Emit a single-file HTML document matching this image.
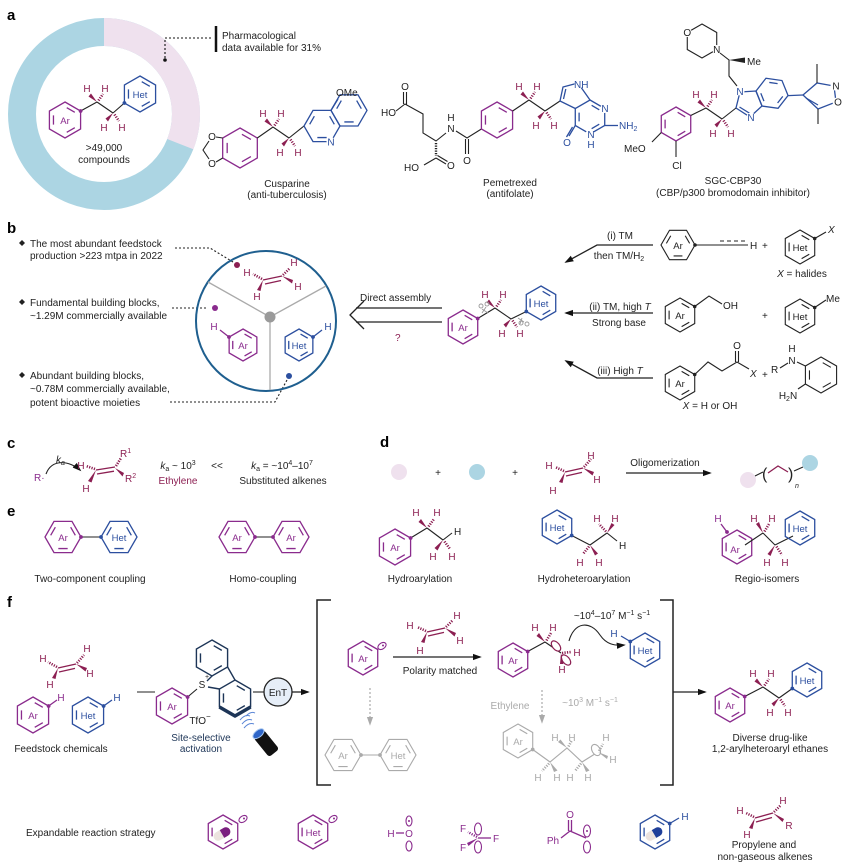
<!DOCTYPE html>
<html><head><meta charset="utf-8">
<style>
html,body{margin:0;padding:0;background:#fff;}
svg{display:block}
text{font-family:"Liberation Sans",Arial,sans-serif;font-size:10px;fill:#222}
.c{text-anchor:middle}
.lab{font-weight:bold;font-size:15px;fill:#000}
.k{stroke:#222;stroke-width:1.1;fill:none}
.pu{stroke:#8a2b8d;stroke-width:1.3;fill:none}
.bl{stroke:#2c4f9f;stroke-width:1.3;fill:none}
.ma{stroke:#8c1f52;stroke-width:1.3;fill:none}
.gr{stroke:#aaa;stroke-width:1.1;fill:none}
.nv{stroke:#1d3557;stroke-width:1.4;fill:none}
.mf{fill:#8c1f52}
.gf{fill:#aaa}
.mh{stroke:#8c1f52;stroke-width:2.6;stroke-dasharray:1.2 1.3;fill:none}
.gh{stroke:#aaa;stroke-width:2.6;stroke-dasharray:1.2 1.3;fill:none}
.kh{stroke:#222;stroke-width:2.4;stroke-dasharray:1.2 1.3;fill:none}
.hm{fill:#8c1f52;text-anchor:middle}
.hg{fill:#aaa;text-anchor:middle}
.tp{fill:#8a2b8d;text-anchor:middle;font-size:9.5px}
.tb{fill:#2c4f9f;text-anchor:middle;font-size:9.5px}
.tg{fill:#aaa;text-anchor:middle;font-size:9.5px}
.wb{fill:#fff}
</style></head><body>
<svg width="850" height="865" viewBox="0 0 850 865" xmlns="http://www.w3.org/2000/svg">
<defs>
<g id="hx"><path d="M0,-1L.866,-.5L.866,.5L0,1L-.866,.5L-.866,-.5Z M.096,-.685L.545,-.426 M.545,.426L.096,.685 M-.641,.259L-.641,-.259" vector-effect="non-scaling-stroke"/></g>
<g id="hx0"><path d="M0,-1L.866,-.5L.866,.5L0,1L-.866,.5L-.866,-.5Z" vector-effect="non-scaling-stroke"/></g>
<marker id="ah" viewBox="0 0 10 10" refX="8" refY="5" markerWidth="9" markerHeight="9" markerUnits="userSpaceOnUse" orient="auto"><path d="M0,1.5L10,5L0,8.5Z" fill="#111"/></marker>
<marker id="ahg" viewBox="0 0 10 10" refX="8" refY="5" markerWidth="9" markerHeight="9" markerUnits="userSpaceOnUse" orient="auto"><path d="M0,1.5L10,5L0,8.5Z" fill="#aaa"/></marker>
</defs>

<!-- ================= a ================= -->
<text class="lab" x="7" y="20">a</text>
<circle cx="104" cy="114" r="82" fill="none" stroke="#acd5e3" stroke-width="28"/>
<path d="M104,18 A96,96 0 0 1 193.3,149.3 L167.2,139 A68,68 0 0 0 104,46 Z" fill="#efe1ee"/>
<circle cx="165" cy="60" r="1.8" fill="#111"/>
<path d="M165,58 V38 H213" stroke="#111" stroke-width="1.1" stroke-dasharray="2 2" fill="none"/>
<line x1="216" y1="26" x2="216" y2="52" stroke="#111" stroke-width="2.5"/>
<text x="222" y="39">Pharmacological</text>
<text x="222" y="51">data available for 31%</text>

<!-- donut molecule -->
<use href="#hx" class="pu" transform="translate(65,120) scale(18)"/>
<text class="tp" x="65" y="124">Ar</text>
<use href="#hx" class="bl" transform="translate(140,94) scale(18)"/>
<text class="tb" x="140" y="98">Het</text>
<line class="k" x1="80.6" y1="111" x2="97" y2="102"/>
<line class="k" x1="113" y1="113" x2="124.4" y2="103"/>
<circle cx="80.6" cy="111" r="1.9" fill="#8a2b8d"/>
<circle cx="124.4" cy="103" r="1.9" fill="#2c4f9f"/>
<g transform="translate(97,102)"><path class="k" d="M0,0L16,11"/><polygon class="mf" points="0,0 -8.5,-5.5 -6,-8.5"/><path class="mh" d="M1.5,-1.5L6,-8"/><polygon class="mf" points="16,11 8.5,16.5 11,19.5"/><path class="mh" d="M17.5,12.5L22,19"/><text class="hm" x="-10" y="-10">H</text><text class="hm" x="8" y="-10">H</text><text class="hm" x="7" y="29">H</text><text class="hm" x="25" y="29">H</text></g>
<text class="c" x="104" y="151">&gt;49,000</text>
<text class="c" x="104" y="163">compounds</text>

<!-- Cusparine -->
<use href="#hx" class="pu" transform="translate(240,148) scale(20)"/>
<path class="k" d="M222.7,138 L216,137 M209,141 L203,150 L209,159 M216,162 L222.7,158"/>
<text class="c" x="212" y="140">O</text>
<text class="c" x="212" y="167">O</text>
<line class="k" x1="257.3" y1="138" x2="273" y2="127"/>
<g transform="translate(273,127)"><path class="k" d="M0,0L16,11"/><polygon class="mf" points="0,0 -8.5,-5.5 -6,-8.5"/><path class="mh" d="M1.5,-1.5L6,-8"/><polygon class="mf" points="16,11 8.5,16.5 11,19.5"/><path class="mh" d="M17.5,12.5L22,19"/><text class="hm" x="-10" y="-10">H</text><text class="hm" x="8" y="-10">H</text><text class="hm" x="7" y="29">H</text><text class="hm" x="25" y="29">H</text></g>
<line class="k" x1="289" y1="138" x2="304" y2="126"/>
<use href="#hx" class="bl" transform="translate(322,126) rotate(30) scale(18)"/>
<use href="#hx" class="bl" transform="translate(349,110.4) rotate(30) scale(18)"/>
<circle class="wb" cx="331" cy="141.6" r="4.5"/>
<text class="tb" x="331" y="145.5" style="font-size:10px">N</text>
<line class="bl" x1="331" y1="110.4" x2="338" y2="99"/>
<text x="336" y="96">OMe</text>
<text class="c" x="287" y="187">Cusparine</text>
<text class="c" x="287" y="198">(anti-tuberculosis)</text>

<!-- Pemetrexed -->
<path class="k" d="M396,111 L405,104 L423,114 L423,133 L436,141 L446,133"/>
<line class="k" x1="403.5" y1="104" x2="403.5" y2="92"/>
<line class="k" x1="406.5" y1="105" x2="406.5" y2="92"/>
<text class="c" x="405" y="90">O</text>
<text x="381" y="116">HO</text>
<line class="kh" x1="436" y1="143" x2="436" y2="156"/>
<path class="k" d="M436,158 L424,165"/>
<path class="k" d="M436,158 L446,164 M437.5,155.5 L447.5,161.5"/>
<text x="404" y="171">HO</text>
<text x="447" y="169">O</text>
<text class="c" x="451" y="121">H</text>
<text class="c" x="451" y="132">N</text>
<path class="k" d="M456,131 L467,138 L481.4,129"/>
<line class="k" x1="465.5" y1="139" x2="465.5" y2="154"/>
<line class="k" x1="468.5" y1="139" x2="468.5" y2="154"/>
<text class="c" x="467" y="164">O</text>
<use href="#hx" class="pu" transform="translate(497,120) scale(18)"/>
<line class="k" x1="512.6" y1="111" x2="529" y2="100"/>
<g transform="translate(529,100)"><path class="k" d="M0,0L16,11"/><polygon class="mf" points="0,0 -8.5,-5.5 -6,-8.5"/><path class="mh" d="M1.5,-1.5L6,-8"/><polygon class="mf" points="16,11 8.5,16.5 11,19.5"/><path class="mh" d="M17.5,12.5L22,19"/><text class="hm" x="-10" y="-10">H</text><text class="hm" x="8" y="-10">H</text><text class="hm" x="7" y="29">H</text><text class="hm" x="25" y="29">H</text></g>
<line class="k" x1="545" y1="111" x2="560" y2="101"/>
<use href="#hx" class="bl" transform="translate(590,117) scale(17)"/>
<path class="bl" d="M575.3,108.5 L560,101 L563,87 L578,83 L590,100"/>
<line class="bl" x1="563.5" y1="99" x2="565.8" y2="89"/>
<circle class="wb" cx="579" cy="84" r="4.5"/>
<text x="574" y="88" style="fill:#2c4f9f">NH</text>
<circle class="wb" cx="604.7" cy="108.5" r="4.5"/>
<text class="tb" x="605" y="112" style="font-size:10px">N</text>
<line class="bl" x1="604.7" y1="125.5" x2="618" y2="125.5"/>
<text x="619" y="129" style="fill:#2c4f9f">NH<tspan font-size="7" dy="2">2</tspan></text>
<circle class="wb" cx="590" cy="134" r="4.5"/>
<text class="tb" x="591" y="138" style="font-size:10px">N</text>
<text class="tb" x="591" y="148" style="font-size:10px">H</text>
<path class="bl" d="M575.3,125.5 L569,136 M572.5,127 L566.5,137"/>
<text class="tb" x="567" y="146" style="font-size:10px">O</text>
<text class="c" x="510" y="186">Pemetrexed</text>
<text class="c" x="510" y="197">(antifolate)</text>

<!-- SGC-CBP30 -->
<use href="#hx0" class="k" transform="translate(702,41) scale(17)"/>
<circle class="wb" cx="687.3" cy="32.5" r="4.5"/>
<text class="c" x="687.3" y="36">O</text>
<circle class="wb" cx="716.7" cy="49.5" r="4.5"/>
<text class="c" x="716.7" y="53">N</text>
<path class="k" d="M720,53 L729,60 L729,76 L737,86"/>
<polygon fill="#222" points="729,60 745,57.5 745,63"/>
<text x="747" y="65">Me</text>
<path class="bl" d="M740,92 L736,108 L750,117 L762,106 L756,91 Z"/>
<line class="bl" x1="739.5" y1="107" x2="750" y2="113.5"/>
<use href="#hx" class="bl" transform="translate(772,93.3) rotate(-22) scale(16.2)"/>
<circle class="wb" cx="740" cy="91" r="4.5"/>
<text class="tb" x="740" y="95" style="font-size:10px">N</text>
<circle class="wb" cx="751" cy="117" r="4.5"/>
<text class="tb" x="751" y="121" style="font-size:10px">N</text>
<line class="bl" x1="788" y1="95.6" x2="803" y2="95"/>
<path class="bl" d="M803,95 L817,83 L834,86 L836,102 L818,109 Z"/>
<line class="bl" x1="806" y1="98" x2="818" y2="105"/>
<line class="k" x1="817" y1="83" x2="817" y2="64"/>
<line class="k" x1="818" y1="109" x2="818" y2="124"/>
<circle class="wb" cx="835" cy="86" r="4.5"/>
<text class="c" x="836" y="89.5">N</text>
<circle class="wb" cx="837" cy="102" r="4.5"/>
<text class="c" x="838" y="105.5">O</text>
<use href="#hx" class="pu" transform="translate(676,124) scale(17)"/>
<line class="k" x1="690.7" y1="115.5" x2="706" y2="108"/>
<g transform="translate(706,108)"><path class="k" d="M0,0L16,11"/><polygon class="mf" points="0,0 -8.5,-5.5 -6,-8.5"/><path class="mh" d="M1.5,-1.5L6,-8"/><polygon class="mf" points="16,11 8.5,16.5 11,19.5"/><path class="mh" d="M17.5,12.5L22,19"/><text class="hm" x="-10" y="-10">H</text><text class="hm" x="8" y="-10">H</text><text class="hm" x="7" y="29">H</text><text class="hm" x="25" y="29">H</text></g>
<line class="k" x1="722" y1="119" x2="736" y2="108"/>
<line class="k" x1="661.3" y1="132.5" x2="652" y2="142"/>
<text x="624" y="152">MeO</text>
<line class="k" x1="676" y1="141" x2="676" y2="157"/>
<text class="c" x="677" y="169">Cl</text>
<text class="c" x="733" y="184">SGC-CBP30</text>
<text class="c" x="733" y="196">(CBP/p300 bromodomain inhibitor)</text>

<!-- ================= b ================= -->
<text class="lab" x="7" y="233">b</text>
<polygon fill="#222" points="22,240 25,243 22,246 19,243"/>
<text x="30" y="247">The most abundant feedstock</text>
<text x="30" y="259">production &gt;223 mtpa in 2022</text>
<polygon fill="#222" points="22,299 25,302 22,305 19,302"/>
<text x="30" y="306">Fundamental building blocks,</text>
<text x="30" y="319">~1.29M commercially available</text>
<polygon fill="#222" points="22,372 25,375 22,378 19,375"/>
<text x="30" y="379">Abundant building blocks,</text>
<text x="30" y="392">~0.78M commercially available,</text>
<text x="30" y="406">potent bioactive moieties</text>
<path d="M175,248 H210 L233,262" stroke="#222" stroke-width="1.1" stroke-dasharray="2 2" fill="none"/>
<path d="M172,308 H208" stroke="#222" stroke-width="1.1" stroke-dasharray="2 2" fill="none"/>
<path d="M170,402 H275 L287,380" stroke="#222" stroke-width="1.1" stroke-dasharray="2 2" fill="none"/>

<circle cx="266" cy="321" r="70" fill="none" stroke="#1f5f8f" stroke-width="2"/>
<path d="M208,282 L270,317 L326,286 M270,317 L270,390" stroke="#aaa" stroke-width="1.3" fill="none"/>
<circle cx="270" cy="317" r="5.5" fill="#9a9a9a"/>
<circle cx="237" cy="265" r="3" fill="#8c1f52"/>
<circle cx="215" cy="308" r="3" fill="#8a2b8d"/>
<circle cx="289" cy="376" r="3" fill="#2c4f9f"/>
<!-- ethylene in circle -->
<line class="ma" x1="263" y1="280" x2="282" y2="276"/>
<line class="ma" x1="265" y1="284" x2="281" y2="280.5"/>
<path class="mh" d="M262,279 L253,274"/>
<path class="mh" d="M283,275 L290,268"/>
<polygon class="mf" points="282,276 293,280 292,283.5"/>
<polygon class="mf" points="263,280 257,290 260.5,291"/>
<text class="hm" x="247" y="276">H</text>
<text class="hm" x="294" y="266">H</text>
<text class="hm" x="298" y="290">H</text>
<text class="hm" x="257" y="300">H</text>
<use href="#hx" class="pu" transform="translate(243,345) scale(16)"/>
<text class="tp" x="243" y="349">Ar</text>
<line class="pu" x1="229" y1="337" x2="220" y2="330"/>
<circle cx="229" cy="337" r="1.9" fill="#8a2b8d"/>
<text class="tp" x="214" y="330" style="font-size:10px">H</text>
<use href="#hx" class="bl" transform="translate(299,345) scale(16)"/>
<text class="tb" x="299" y="349">Het</text>
<line class="bl" x1="313" y1="337" x2="322" y2="330"/>
<circle cx="313" cy="337" r="1.9" fill="#2c4f9f"/>
<text class="tb" x="328" y="330" style="font-size:10px">H</text>

<!-- double arrow -->
<path d="M356,308 H442 M356,322 H442" stroke="#222" stroke-width="1.3" fill="none"/>
<path d="M364,301 L350,315 L364,329" stroke="#222" stroke-width="1.3" fill="none"/>
<text x="360" y="301">Direct assembly</text>
<text x="395" y="341" style="fill:#8c1f52">?</text>

<!-- product b -->
<use href="#hx" class="pu" transform="translate(463,327) scale(17)"/>
<text class="tp" x="463" y="331">Ar</text>
<use href="#hx" class="bl" transform="translate(541,303) scale(17)"/>
<text class="tb" x="541" y="307">Het</text>
<line class="k" x1="477.7" y1="318.5" x2="495" y2="308"/>
<line class="k" x1="511" y1="319" x2="526.3" y2="311.5"/>
<circle cx="477.7" cy="318.5" r="1.9" fill="#8a2b8d"/>
<circle cx="526.3" cy="311.5" r="1.9" fill="#2c4f9f"/>
<g transform="translate(495,308)"><path class="k" d="M0,0L16,11"/><polygon class="mf" points="0,0 -8.5,-5.5 -6,-8.5"/><path class="mh" d="M1.5,-1.5L6,-8"/><polygon class="mf" points="16,11 8.5,16.5 11,19.5"/><path class="mh" d="M17.5,12.5L22,19"/><text class="hm" x="-10" y="-10">H</text><text class="hm" x="8" y="-10">H</text><text class="hm" x="7" y="29">H</text><text class="hm" x="25" y="29">H</text></g>
<g stroke="#999" stroke-width="0.9" fill="none"><circle cx="481" cy="306" r="2"/><circle cx="487" cy="304" r="2"/><path d="M482,309 L488,313 M486,307 L482,313"/><circle cx="521" cy="323" r="2"/><circle cx="527" cy="324" r="2"/><path d="M518,318 L524,322 M522,318 L520,324"/></g>

<!-- route arrows -->
<path class="k" d="M653,245 H597 L566,262" marker-end="url(#ah)" style="stroke-width:1.3"/>
<text class="c" x="620" y="239">(i) TM</text>
<text class="c" x="619" y="259">then TM/H<tspan font-size="7" dy="2">2</tspan></text>
<path class="k" d="M653,313 H566" marker-end="url(#ah)" style="stroke-width:1.3"/>
<text class="c" x="620" y="310">(ii) TM, high <tspan font-style="italic">T</tspan></text>
<text class="c" x="619" y="326">Strong base</text>
<path class="k" d="M653,378 H597 L566,361" marker-end="url(#ah)" style="stroke-width:1.3"/>
<text class="c" x="620" y="374">(iii) High <tspan font-style="italic">T</tspan></text>

<!-- reactants i -->
<use href="#hx" class="k" transform="translate(678,245) rotate(30) scale(17)"/>
<text class="c" x="678" y="249" style="font-size:9.5px">Ar</text>
<line class="k" x1="695" y1="245" x2="748" y2="245"/>
<line class="k" x1="720" y1="241" x2="746" y2="241" stroke-dasharray="4 3"/>
<circle cx="695" cy="245" r="1.8" fill="#222"/>
<text x="750" y="249">H</text>
<text x="762" y="249">+</text>
<use href="#hx" class="k" transform="translate(800,247) scale(17)"/>
<text class="c" x="800" y="251" style="font-size:9.5px">Het</text>
<line class="k" x1="814.7" y1="238.5" x2="826" y2="232"/>
<circle cx="814.7" cy="238.5" r="1.8" fill="#222"/>
<text x="828" y="233" font-style="italic">X</text>
<text class="c" x="802" y="277"><tspan font-style="italic">X</tspan> = halides</text>
<!-- reactants ii -->
<use href="#hx" class="k" transform="translate(680,315) scale(17)"/>
<text class="c" x="680" y="319" style="font-size:9.5px">Ar</text>
<path class="k" d="M694.7,306.5 L709,296 L722,304"/>
<circle cx="694.7" cy="306.5" r="1.8" fill="#222"/>
<text x="723" y="309">OH</text>
<text x="762" y="319">+</text>
<use href="#hx" class="k" transform="translate(800,316) scale(17)"/>
<text class="c" x="800" y="320" style="font-size:9.5px">Het</text>
<line class="k" x1="814.7" y1="307.5" x2="826" y2="300"/>
<circle cx="814.7" cy="307.5" r="1.8" fill="#222"/>
<text x="826" y="302">Me</text>
<!-- reactants iii -->
<use href="#hx" class="k" transform="translate(680,383) scale(17)"/>
<text class="c" x="680" y="387" style="font-size:9.5px">Ar</text>
<path class="k" d="M694.7,374.5 L708,362 L722,371 L737,362 L749,369"/>
<circle cx="694.7" cy="374.5" r="1.8" fill="#222"/>
<line class="k" x1="735.5" y1="362" x2="735.5" y2="351"/>
<line class="k" x1="738.5" y1="362" x2="738.5" y2="351"/>
<text class="c" x="737" y="349">O</text>
<text x="750" y="377" font-style="italic">X</text>
<text x="762" y="378">+</text>
<text x="771" y="373">R</text>
<line class="k" x1="780" y1="368" x2="788" y2="363"/>
<text class="c" x="792" y="352">H</text>
<text class="c" x="792" y="364">N</text>
<use href="#hx" class="k" transform="translate(821,375) scale(18)"/>
<line class="k" x1="797" y1="362" x2="805.4" y2="366"/>
<line class="k" x1="805.4" y1="384" x2="798" y2="389"/>
<text class="c" x="788" y="399">H<tspan font-size="7" dy="2">2</tspan><tspan dy="-2">N</tspan></text>
<text class="c" x="710" y="409"><tspan font-style="italic">X</tspan> = H or OH</text>

<!-- ================= c ================= -->
<text class="lab" x="7" y="448">c</text>
<text x="34" y="481" style="fill:#8a2b8d">R·</text>
<path d="M46,474 C52,458 70,461 80,470" stroke="#222" stroke-width="1.1" fill="none" marker-end="url(#ah)"/>
<text x="56" y="463" font-style="italic">k<tspan font-size="7" dy="2">a</tspan></text>
<line class="ma" x1="96" y1="470" x2="115" y2="467"/>
<line class="ma" x1="97" y1="474" x2="114" y2="471.2"/>
<path class="mh" d="M95,469 L86,466"/>
<polygon class="mf" points="96,470 88,481 91.5,482.5"/>
<path class="mh" d="M116,466 L121,458"/>
<polygon class="mf" points="115,468 124,473 122.5,476.5"/>
<text class="hm" x="81" y="469">H</text>
<text class="hm" x="86" y="492">H</text>
<text x="120" y="457" style="fill:#8c1f52">R<tspan font-size="7" dy="-4">1</tspan></text>
<text x="125" y="482" style="fill:#8c1f52">R<tspan font-size="7" dy="-4">2</tspan></text>
<text class="c" x="178" y="469"><tspan font-style="italic">k</tspan><tspan font-size="7" dy="2">a</tspan><tspan dy="-2"> ~ 10</tspan><tspan font-size="7" dy="-4">3</tspan></text>
<text class="c" x="178" y="484" style="fill:#8c1f52">Ethylene</text>
<text class="c" x="217" y="469">&lt;&lt;</text>
<text class="c" x="282" y="469"><tspan font-style="italic">k</tspan><tspan font-size="7" dy="2">a</tspan><tspan dy="-2"> = ~10</tspan><tspan font-size="7" dy="-4">4</tspan><tspan dy="4">–10</tspan><tspan font-size="7" dy="-4">7</tspan></text>
<text class="c" x="283" y="484">Substituted alkenes</text>

<!-- ================= d ================= -->
<text class="lab" x="380" y="447">d</text>
<circle cx="399" cy="472" r="8" fill="#efe1ee"/>
<text class="c" x="438" y="476">+</text>
<circle cx="477" cy="472" r="8" fill="#acd5e3"/>
<text class="c" x="515" y="476">+</text>
<line class="ma" x1="565" y1="472" x2="583" y2="468"/>
<line class="ma" x1="566" y1="476" x2="582" y2="472.4"/>
<path class="mh" d="M564,471 L555,467"/>
<path class="mh" d="M584,467 L591,459"/>
<polygon class="mf" points="583,468 594,472 592.5,475.5"/>
<polygon class="mf" points="565,472 559,482 562.5,483"/>
<text class="hm" x="549" y="469">H</text>
<text class="hm" x="591" y="459">H</text>
<text class="hm" x="597" y="483">H</text>
<text class="hm" x="553" y="494">H</text>
<path d="M626,473 H710" stroke="#222" stroke-width="1.3" fill="none" marker-end="url(#ah)"/>
<text class="c" x="665" y="466">Oligomerization</text>
<circle cx="748" cy="480" r="8" fill="#efe1ee"/>
<line class="k" x1="755" y1="476" x2="763" y2="472"/>
<text x="762" y="479" style="font-size:16px;font-weight:300">(</text>
<path class="ma" d="M768,473 L778,466 L788,472"/>
<text x="788" y="479" style="font-size:16px">)</text>
<line class="k" x1="794" y1="471" x2="803" y2="467"/>
<text x="795" y="488" font-style="italic" style="font-size:7px">n</text>
<circle cx="810" cy="463" r="8" fill="#acd5e3"/>

<!-- ================= e ================= -->
<text class="lab" x="7" y="516">e</text>
<use href="#hx" class="pu" transform="translate(63,537) rotate(30) scale(18)"/>
<text class="tp" x="63" y="541">Ar</text>
<use href="#hx" class="bl" transform="translate(119,537) rotate(30) scale(18)"/>
<text class="tb" x="119" y="541">Het</text>
<line class="k" x1="81" y1="537" x2="101" y2="537"/>
<circle cx="81" cy="537" r="1.9" fill="#8a2b8d"/>
<circle cx="101" cy="537" r="1.9" fill="#2c4f9f"/>
<text class="c" x="90" y="582">Two-component coupling</text>
<use href="#hx" class="pu" transform="translate(237,537) rotate(30) scale(18)"/>
<text class="tp" x="237" y="541">Ar</text>
<use href="#hx" class="pu" transform="translate(291,537) rotate(30) scale(18)"/>
<text class="tp" x="291" y="541">Ar</text>
<line class="k" x1="255" y1="537" x2="273" y2="537"/>
<circle cx="255" cy="537" r="1.9" fill="#8a2b8d"/>
<circle cx="273" cy="537" r="1.9" fill="#8a2b8d"/>
<text class="c" x="263" y="582">Homo-coupling</text>
<!-- hydroarylation -->
<use href="#hx" class="pu" transform="translate(395,547) scale(18)"/>
<text class="tp" x="395" y="551">Ar</text>
<line class="k" x1="410.6" y1="538" x2="427" y2="528"/>
<circle cx="410.6" cy="538" r="1.9" fill="#8a2b8d"/>
<line class="k" x1="427" y1="528" x2="443" y2="540"/>
<polygon class="mf" points="427,528 418.5,522 421,519"/>
<path class="mh" d="M428.5,526.5 L434,519"/>
<line class="k" x1="443" y1="540" x2="452" y2="533"/>
<polygon class="mf" points="443,540 434.5,548 437.5,550.5"/>
<path class="mh" d="M444.5,541.5 L450,549"/>
<text class="hm" x="416" y="516">H</text>
<text class="hm" x="437" y="516">H</text>
<text x="454" y="535">H</text>
<text class="hm" x="433" y="560">H</text>
<text class="hm" x="452" y="560">H</text>
<text class="c" x="420" y="582">Hydroarylation</text>
<!-- hydroheteroarylation -->
<use href="#hx" class="bl" transform="translate(557,527) scale(17)"/>
<text class="tb" x="557" y="531">Het</text>
<line class="k" x1="571.7" y1="535.5" x2="590" y2="545"/>
<circle cx="571.7" cy="535.5" r="1.9" fill="#2c4f9f"/>
<line class="k" x1="590" y1="545" x2="607" y2="533"/>
<path class="mh" d="M589,546.5 L583,554"/>
<polygon class="mf" points="590,545 595,555.5 598,553.5"/>
<path class="mh" d="M606,531.5 L599,524"/>
<polygon class="mf" points="607,533 611.5,523 614.5,525"/>
<line class="k" x1="607" y1="533" x2="617" y2="541"/>
<text class="hm" x="580" y="566">H</text>
<text class="hm" x="599" y="566">H</text>
<text class="hm" x="597" y="522">H</text>
<text class="hm" x="615" y="522">H</text>
<text x="619" y="549">H</text>
<text class="c" x="584" y="582">Hydroheteroarylation</text>
<!-- regio -->
<use href="#hx" class="pu" transform="translate(737,547) scale(17)"/>
<text class="tp" x="735" y="553">Ar</text>
<line class="pu" x1="727" y1="532" x2="721" y2="524"/>
<circle cx="727" cy="532" r="1.9" fill="#8a2b8d"/>
<text class="tp" x="718" y="522" style="font-size:10px">H</text>
<line class="k" x1="745" y1="545" x2="763" y2="533"/>
<line class="k" x1="763" y1="533" x2="775" y2="545"/>
<polygon class="mf" points="763,533 756,524 759,522"/>
<path class="mh" d="M764.5,531.5 L769,524"/>
<polygon class="mf" points="775,545 767.5,554 770.5,556"/>
<path class="mh" d="M776.5,546.5 L782,555"/>
<line class="k" x1="775" y1="545" x2="793" y2="536"/>
<text class="hm" x="754" y="522">H</text>
<text class="hm" x="772" y="522">H</text>
<text class="hm" x="767" y="566">H</text>
<text class="hm" x="785" y="566">H</text>
<use href="#hx" class="bl" transform="translate(800,528) scale(17)"/>
<text class="tb" x="800" y="532">Het</text>
<text class="c" x="767" y="582">Regio-isomers</text>

<!-- ================= f ================= -->
<text class="lab" x="7" y="607">f</text>
<line class="ma" x1="58" y1="668" x2="76" y2="664"/>
<line class="ma" x1="59" y1="672" x2="75" y2="668.4"/>
<path class="mh" d="M57,667 L48,662"/>
<path class="mh" d="M77,663 L84,655"/>
<polygon class="mf" points="76,664 87,668 85.5,671.5"/>
<polygon class="mf" points="58,668 52,678 55.5,679"/>
<text class="hm" x="43" y="662">H</text>
<text class="hm" x="87" y="652">H</text>
<text class="hm" x="90" y="677">H</text>
<text class="hm" x="50" y="688">H</text>
<use href="#hx" class="pu" transform="translate(33,715) scale(18)"/>
<text class="tp" x="33" y="719">Ar</text>
<line class="pu" x1="48.6" y1="706" x2="57" y2="700"/>
<circle cx="48.6" cy="706" r="1.9" fill="#8a2b8d"/>
<text class="tp" x="61" y="701" style="font-size:10px">H</text>
<use href="#hx" class="bl" transform="translate(88,715) scale(18)"/>
<text class="tb" x="88" y="719">Het</text>
<line class="bl" x1="103.6" y1="706" x2="112" y2="700"/>
<circle cx="103.6" cy="706" r="1.9" fill="#2c4f9f"/>
<text class="tb" x="117" y="701" style="font-size:10px">H</text>
<text class="c" x="61" y="752">Feedstock chemicals</text>
<line class="k" x1="137" y1="692" x2="155" y2="692"/>
<!-- sulfonium -->
<use href="#hx" class="pu" transform="translate(172,706) scale(18)"/>
<text class="tp" x="172" y="710">Ar</text>
<line class="k" x1="187.6" y1="697" x2="197" y2="689"/>
<circle cx="187.6" cy="697" r="1.9" fill="#8a2b8d"/>
<use href="#hx" class="nv" transform="translate(212,658) scale(18)"/>
<use href="#hx" class="nv" transform="translate(235,698) scale(18)"/>
<path class="nv" d="M207,681 L212,676 M208,687 L219.4,689 M227.6,667 L235,680"/>
<path d="M250.6,707 L235,716 L219.4,707" stroke="#1d3557" stroke-width="3.6" fill="none" stroke-linejoin="round"/>
<text class="c" x="202" y="688">S</text>
<text x="205" y="679" style="font-size:7px">+</text>
<text class="c" x="200" y="724">TfO<tspan font-size="8" dy="-5">−</tspan></text>
<text class="c" x="201" y="741" style="fill:#1d3557">Site-selective</text>
<text class="c" x="201" y="752" style="fill:#1d3557">activation</text>
<g stroke="#5b86d6" stroke-width="1" fill="none"><path d="M240,720 Q245,714 250,716"/><path d="M242,724 Q247,718 252,720"/><path d="M244,728 Q249,722 254,724"/><path d="M246,716 Q251,711 255,713"/></g>
<g transform="translate(266,743) rotate(51)"><rect x="-12" y="-6.5" width="25" height="13" rx="3" fill="#111"/><ellipse cx="-12" cy="0" rx="3.5" ry="6.5" fill="#2f66c8" stroke="#a8c8f0" stroke-width="1"/></g>
<line class="k" x1="253" y1="692" x2="264" y2="692"/>
<circle cx="278" cy="692" r="14" fill="#e6eef8" stroke="#222" stroke-width="1.3"/>
<text class="c" x="278" y="696">EnT</text>
<path d="M292,692 H308" stroke="#222" stroke-width="1.3" fill="none" marker-end="url(#ah)"/>
<!-- brackets -->
<path d="M331,600 H317 V785 H331" stroke="#222" stroke-width="1.5" fill="none"/>
<path d="M660,600 H673 V785 H660" stroke="#222" stroke-width="1.5" fill="none"/>
<!-- radical -->
<use href="#hx" class="pu" transform="translate(363,658) scale(17)"/>
<text class="tp" x="363" y="662">Ar</text>
<ellipse cx="382" cy="646" rx="4.5" ry="3" transform="rotate(-35 382 646)" fill="#fff" stroke="#8a2b8d" stroke-width="1.1"/>
<circle cx="383" cy="645.5" r="1" fill="#8a2b8d"/>
<!-- ethylene over arrow -->
<line class="ma" x1="427" y1="632" x2="445" y2="628"/>
<line class="ma" x1="428" y1="636" x2="444" y2="632.4"/>
<path class="mh" d="M426,631 L417,627"/>
<path class="mh" d="M446,627 L453,620"/>
<polygon class="mf" points="445,628 456,633 454.5,636.5"/>
<polygon class="mf" points="427,632 421,642 424.5,643"/>
<text class="hm" x="410" y="629">H</text>
<text class="hm" x="457" y="619">H</text>
<text class="hm" x="460" y="644">H</text>
<text class="hm" x="420" y="654">H</text>
<path d="M393,657 H480" stroke="#222" stroke-width="1.3" fill="none" marker-end="url(#ah)"/>
<text class="c" x="440" y="674">Polarity matched</text>
<!-- intermediate -->
<use href="#hx" class="pu" transform="translate(513,660) scale(17)"/>
<text class="tp" x="513" y="664">Ar</text>
<line class="k" x1="527.7" y1="651.5" x2="545" y2="642"/>
<circle cx="527.7" cy="651.5" r="1.9" fill="#8a2b8d"/>
<line class="k" x1="545" y1="642" x2="561" y2="653"/>
<polygon class="mf" points="545,642 536.5,636 539,633"/>
<path class="mh" d="M546.5,640.5 L551,633"/>
<text class="hm" x="535" y="631">H</text>
<text class="hm" x="553" y="631">H</text>
<ellipse cx="556" cy="646" rx="3.5" ry="6" transform="rotate(-40 556 646)" fill="#fff" stroke="#8c1f52" stroke-width="1.2"/>
<ellipse cx="566" cy="660" rx="3.5" ry="6" transform="rotate(-40 566 660)" fill="#fff" stroke="#8c1f52" stroke-width="1.2"/>
<path class="mh" d="M562,653 L571,652"/>
<polygon class="mf" points="561,653 560,664 563.5,664"/>
<text class="hm" x="577" y="656">H</text>
<text class="hm" x="562" y="673">H</text>
<path d="M569,641 C574,622 590,620 600,635 C606,644 614,646 624,645" stroke="#222" stroke-width="1.1" fill="none" marker-end="url(#ah)"/>
<text class="c" x="612" y="619">~10<tspan font-size="7" dy="-4">4</tspan><tspan dy="4">–10</tspan><tspan font-size="7" dy="-4">7</tspan><tspan dy="4"> M</tspan><tspan font-size="7" dy="-4">−1</tspan><tspan dy="4"> s</tspan><tspan font-size="7" dy="-4">−1</tspan></text>
<use href="#hx" class="bl" transform="translate(645,650) scale(17)"/>
<text class="tb" x="645" y="654">Het</text>
<line class="bl" x1="630.3" y1="641.5" x2="621" y2="636"/>
<circle cx="630.3" cy="641.5" r="1.9" fill="#2c4f9f"/>
<text class="tb" x="614" y="637" style="font-size:10px">H</text>
<!-- gray pathways -->
<path d="M370,688 V724" stroke="#aaa" stroke-width="1.2" stroke-dasharray="2 2" fill="none" marker-end="url(#ahg)"/>
<path d="M542,690 V722" stroke="#aaa" stroke-width="1.2" stroke-dasharray="2 2" fill="none" marker-end="url(#ahg)"/>
<text class="c" x="510" y="709" style="fill:#aaa">Ethylene</text>
<text class="c" x="590" y="706" style="fill:#aaa">~10<tspan font-size="7" dy="-4">3</tspan><tspan dy="4"> M</tspan><tspan font-size="7" dy="-4">−1</tspan><tspan dy="4"> s</tspan><tspan font-size="7" dy="-4">−1</tspan></text>
<use href="#hx" class="gr" transform="translate(343,755) rotate(30) scale(18)"/>
<text class="tg" x="343" y="759">Ar</text>
<use href="#hx" class="gr" transform="translate(398,755) rotate(30) scale(18)"/>
<text class="tg" x="398" y="759">Het</text>
<line class="gr" x1="361" y1="755" x2="380" y2="755"/>
<circle cx="361" cy="755" r="1.9" fill="#aaa"/>
<circle cx="380" cy="755" r="1.9" fill="#aaa"/>
<use href="#hx" class="gr" transform="translate(518,741) scale(17)"/>
<text class="tg" x="518" y="745">Ar</text>
<path class="gr" d="M532.7,749.5 L550,762 L567,748 L582,762 L598,752"/>
<circle cx="532.7" cy="749.5" r="1.9" fill="#aaa"/>
<polygon class="gf" points="567,748 558,742 560.5,739.5"/>
<path class="gh" d="M568.5,746.5 L572,740"/>
<text class="hg" x="555" y="741">H</text>
<text class="hg" x="572" y="741">H</text>
<path class="gh" d="M549,763.5 L542,771"/>
<polygon class="gf" points="550,762 554,772 557.5,770.5"/>
<path class="gh" d="M581,763.5 L575,771"/>
<polygon class="gf" points="582,762 586,772 589.5,770.5"/>
<text class="hg" x="538" y="781">H</text>
<text class="hg" x="557" y="781">H</text>
<text class="hg" x="570" y="781">H</text>
<text class="hg" x="588" y="781">H</text>
<ellipse cx="596" cy="750" rx="4" ry="6" transform="rotate(-30 596 750)" fill="#fff" stroke="#aaa" stroke-width="1.1"/>
<path class="gh" d="M599,751 L603,744"/>
<polygon class="gf" points="598,752 608,756 607,759"/>
<text class="hg" x="606" y="741">H</text>
<text class="hg" x="613" y="763">H</text>
<!-- product -->
<path d="M673,692 H705" stroke="#222" stroke-width="1.3" fill="none" marker-end="url(#ah)"/>
<use href="#hx" class="pu" transform="translate(730,705) scale(17)"/>
<text class="tp" x="730" y="709">Ar</text>
<use href="#hx" class="bl" transform="translate(807,680) scale(17)"/>
<text class="tb" x="807" y="684">Het</text>
<line class="k" x1="744.7" y1="696.5" x2="763" y2="687"/>
<line class="k" x1="779" y1="698" x2="792.3" y2="688.5"/>
<circle cx="744.7" cy="696.5" r="1.9" fill="#8a2b8d"/>
<circle cx="792.3" cy="688.5" r="1.9" fill="#2c4f9f"/>
<g transform="translate(763,687)"><path class="k" d="M0,0L16,11"/><polygon class="mf" points="0,0 -8.5,-5.5 -6,-8.5"/><path class="mh" d="M1.5,-1.5L6,-8"/><polygon class="mf" points="16,11 8.5,16.5 11,19.5"/><path class="mh" d="M17.5,12.5L22,19"/><text class="hm" x="-10" y="-10">H</text><text class="hm" x="8" y="-10">H</text><text class="hm" x="7" y="29">H</text><text class="hm" x="25" y="29">H</text></g>
<text class="c" x="770" y="741">Diverse drug-like</text>
<text class="c" x="770" y="752">1,2-arylheteroaryl ethanes</text>

<!-- bottom row -->
<text x="26" y="836">Expandable reaction strategy</text>
<use href="#hx" class="pu" transform="translate(223,832) scale(17)"/>
<g transform="translate(222,834) rotate(-30)"><rect x="-9" y="-4.5" width="18" height="9" rx="4.5" fill="#ece3df"/><path d="M0,-4.5 H4.5 A4.5,4.5 0 0 1 4.5,4.5 H0 Z" fill="#7a1f7f"/></g>
<ellipse cx="243" cy="819" rx="4.5" ry="3" transform="rotate(-35 243 819)" fill="#fff" stroke="#8a2b8d" stroke-width="1.1"/>
<circle cx="244" cy="818.5" r="1" fill="#8a2b8d"/>
<use href="#hx" class="pu" transform="translate(313,832) scale(17)"/>
<text class="tp" x="313" y="836">Het</text>
<ellipse cx="333" cy="819" rx="4.5" ry="3" transform="rotate(-35 333 819)" fill="#fff" stroke="#8a2b8d" stroke-width="1.1"/>
<circle cx="334" cy="818.5" r="1" fill="#8a2b8d"/>
<text class="tp" x="391" y="837" style="font-size:10px">H</text>
<line class="pu" x1="396" y1="833" x2="404" y2="833"/>
<text class="tp" x="409" y="837" style="font-size:10px">O</text>
<ellipse cx="409" cy="821" rx="3" ry="5" fill="#fff" stroke="#8a2b8d" stroke-width="1.1"/>
<ellipse cx="409" cy="846" rx="3" ry="5" fill="#fff" stroke="#8a2b8d" stroke-width="1.1"/>
<circle cx="409" cy="821" r="1" fill="#8a2b8d"/>
<!-- CF3 -->
<ellipse cx="478" cy="829" rx="3.5" ry="6" fill="#fff" stroke="#8a2b8d" stroke-width="1.1"/>
<ellipse cx="478" cy="847" rx="3.5" ry="6" fill="#fff" stroke="#8a2b8d" stroke-width="1.1"/>
<path d="M477,837 L468,832" stroke="#8a2b8d" stroke-width="2.4" stroke-dasharray="1.2 1.3" fill="none"/>
<polygon fill="#8a2b8d" points="478,838 467,843 468.5,846"/>
<line class="pu" x1="478" y1="838" x2="491" y2="838"/>
<text class="tp" x="463" y="832" style="font-size:10px">F</text>
<text class="tp" x="463" y="851" style="font-size:10px">F</text>
<text class="tp" x="496" y="842" style="font-size:10px">F</text>
<!-- PhCO -->
<text class="tp" x="553" y="844" style="font-size:10px">Ph</text>
<path class="pu" d="M561,838 L570,831 L586,838"/>
<line class="pu" x1="568.5" y1="831" x2="568.5" y2="820"/>
<line class="pu" x1="571.5" y1="831" x2="571.5" y2="820"/>
<text class="tp" x="570" y="818" style="font-size:10px">O</text>
<ellipse cx="587" cy="831" rx="3.5" ry="6" fill="#fff" stroke="#8a2b8d" stroke-width="1.1"/>
<ellipse cx="587" cy="847" rx="3.5" ry="6" fill="#fff" stroke="#8a2b8d" stroke-width="1.1"/>
<circle cx="587" cy="831" r="1" fill="#8a2b8d"/>
<!-- blue ring pill -->
<use href="#hx" class="bl" transform="translate(655,832) scale(17)"/>
<g transform="translate(654,834) rotate(-30)"><rect x="-9" y="-4.5" width="18" height="9" rx="4.5" fill="#ece3df"/><path d="M0,-4.5 H4.5 A4.5,4.5 0 0 1 4.5,4.5 H0 Z" fill="#1f3f9a"/></g>
<line class="bl" x1="669.7" y1="823.5" x2="679" y2="818"/>
<circle cx="669.7" cy="823.5" r="1.9" fill="#2c4f9f"/>
<text class="tb" x="685" y="820" style="font-size:10px">H</text>
<!-- propylene -->
<line class="ma" x1="755" y1="818" x2="773" y2="813"/>
<line class="ma" x1="756" y1="822" x2="772" y2="817.5"/>
<path class="mh" d="M754,817 L746,813"/>
<path class="mh" d="M774,812 L781,805"/>
<polygon class="mf" points="773,813 784,819 782.5,822"/>
<polygon class="mf" points="755,818 749,828 752.5,829"/>
<text class="hm" x="740" y="814">H</text>
<text class="hm" x="783" y="804">H</text>
<text class="hm" x="789" y="829">R</text>
<text class="hm" x="747" y="838">H</text>
<text class="c" x="764" y="848">Propylene and</text>
<text class="c" x="765" y="860">non-gaseous alkenes</text>
</svg>
</body></html>
